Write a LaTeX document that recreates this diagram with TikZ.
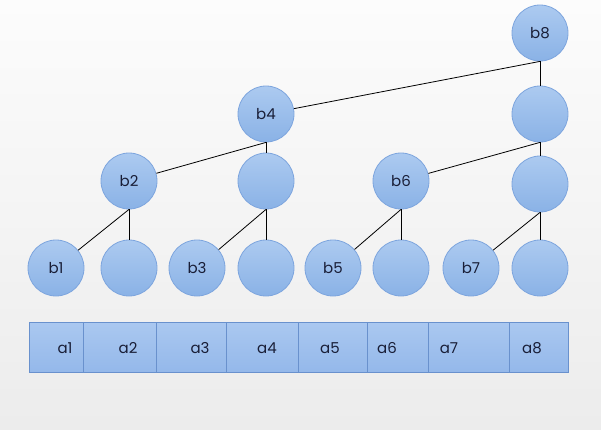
\documentclass[tikz,border=0pt]{standalone}
\usepackage{fontspec}
\setmainfont{Poppins}
\definecolor{cirtop}{RGB}{172,202,240}
\definecolor{cirbot}{RGB}{138,178,230}
\definecolor{cirline}{RGB}{125,165,222}
\definecolor{celltop}{RGB}{170,200,240}
\definecolor{cellbot}{RGB}{148,184,234}
\definecolor{cellline}{RGB}{105,145,205}
\definecolor{txt}{RGB}{25,30,55}
\definecolor{bgtop}{RGB}{252,252,252}
\definecolor{bgbot}{RGB}{236,236,236}
\begin{document}
\begin{tikzpicture}[x=1pt,y=-1pt,
  tnode/.style={circle,draw=cirline,line width=0.8pt,top color=cirtop,bottom color=cirbot,minimum size=56pt,inner sep=0pt,font=\fontsize{15}{15}\selectfont,text=txt},
  cellbox/.style={draw=cellline,line width=0.6pt,top color=celltop,bottom color=cellbot,inner sep=0pt,anchor=north west},
  celltxt/.style={font=\fontsize{15}{15}\selectfont,text=txt},
  edge/.style={draw=black,line width=0.8pt}]
\shade[top color=bgtop,bottom color=bgbot] (0,0) rectangle (601,429);
\useasboundingbox (0,0) rectangle (601,429);
% tree nodes
\node[tnode] (b8) at (540,33) {b8};
\node[tnode] (c8) at (540,114) {};
\node[tnode] (b4) at (266,114) {b4};
\node[tnode] (b2) at (129,181) {b2};
\node[tnode] (c4) at (266,181) {};
\node[tnode] (b6) at (401,181) {b6};
\node[tnode] (d8) at (540,184) {};
\node[tnode] (b1) at (56,268) {b1};
\node[tnode] (c2) at (129,268) {};
\node[tnode] (b3) at (197,268) {b3};
\node[tnode] (d4) at (266,268) {};
\node[tnode] (b5) at (333,268) {b5};
\node[tnode] (c6) at (401,268) {};
\node[tnode] (b7) at (471,268) {b7};
\node[tnode] (e8) at (540,268) {};
% connectors
\path[edge] (b8.south) -- (c8.north);
\path[edge] (b8.south) -- (b4);
\path[edge] (c8.south) -- (d8.north);
\path[edge] (c8.south) -- (b6);
\path[edge] (b4.south) -- (c4.north);
\path[edge] (b4.south) -- (b2);
\path[edge] (b2.south) -- (c2.north);
\path[edge] (b2.south) -- (b1);
\path[edge] (c4.south) -- (d4.north);
\path[edge] (c4.south) -- (b3);
\path[edge] (b6.south) -- (c6.north);
\path[edge] (b6.south) -- (b5);
\path[edge] (d8.south) -- (e8.north);
\path[edge] (d8.south) -- (b7);
% array cells
\node[cellbox,minimum width=54pt,minimum height=50pt] (a1) at (29,322) {};
\node[cellbox,minimum width=73pt,minimum height=50pt] (a2) at (83,322) {};
\node[cellbox,minimum width=70pt,minimum height=50pt] (a3) at (156,322) {};
\node[cellbox,minimum width=72pt,minimum height=50pt] (a4) at (226,322) {};
\node[cellbox,minimum width=69pt,minimum height=50pt] (a5) at (298,322) {};
\node[cellbox,minimum width=61pt,minimum height=50pt] (a6) at (367,322) {};
\node[cellbox,minimum width=81pt,minimum height=50pt] (a7) at (428,322) {};
\node[cellbox,minimum width=59pt,minimum height=50pt] (a8) at (509,322) {};
\node[celltxt] at (65,348) {a1};
\node[celltxt] at (128,348) {a2};
\node[celltxt] at (200,348) {a3};
\node[celltxt] at (267,348) {a4};
\node[celltxt] at (330,348) {a5};
\node[celltxt] at (387,348) {a6};
\node[celltxt] at (449,348) {a7};
\node[celltxt] at (532,348) {a8};
\end{tikzpicture}
\end{document}
